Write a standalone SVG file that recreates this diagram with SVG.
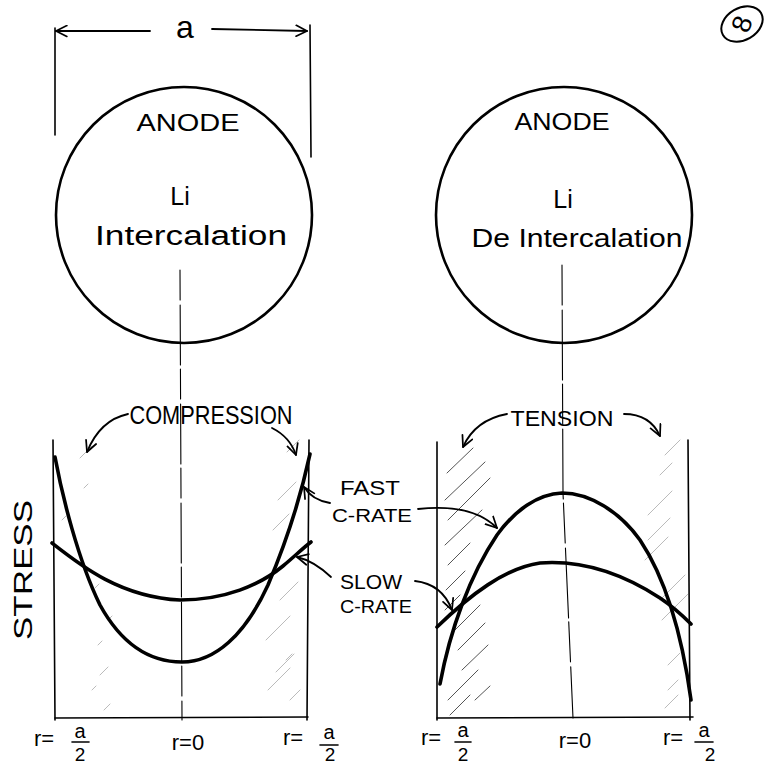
<svg xmlns="http://www.w3.org/2000/svg" width="765" height="767" viewBox="0 0 765 767">
<style>
.ink{fill:none;stroke:#000;stroke-linecap:round;stroke-linejoin:round}
.circ{stroke-width:2.6}
.curve{stroke-width:3.6}
.axis{stroke-width:1.6}
.center{stroke-width:1.1}
.arrow{stroke-width:1.8}
.hatch{fill:none;stroke:#555;stroke-width:1;stroke-linecap:round}
.hatchL{fill:none;stroke:#bbb;stroke-width:1;stroke-linecap:round}
.t{font-family:"Liberation Sans",Arial,sans-serif;fill:#000}
</style>
<defs>
<marker id="ah" viewBox="0 0 12 12" refX="11" refY="6" markerWidth="13" markerHeight="13" markerUnits="userSpaceOnUse" orient="auto">
<path d="M1,1 L11,6 L1,11" fill="none" stroke="#000" stroke-width="1.6" stroke-linejoin="round" stroke-linecap="round"/>
</marker>
</defs>
<rect width="765" height="767" fill="#fff"/>

<g id="page-number">
<ellipse cx="742" cy="24" rx="22" ry="16" transform="rotate(-30 742 24)" class="ink" stroke-width="2"/>
<text class="t" x="742" y="33" font-size="27" text-anchor="middle" transform="rotate(-70 742 24)">8</text>
</g>

<g id="dimension-a">
<line x1="55" y1="28" x2="55" y2="135" class="ink axis"/>
<line x1="310" y1="25" x2="311" y2="157" class="ink axis"/>
<text class="t" x="185" y="38" font-size="32" text-anchor="middle">a</text>
</g>

<g id="anode-left">
<ellipse cx="184" cy="215" rx="128" ry="128" class="ink circ"/>
<text class="t" x="188" y="131" font-size="24" text-anchor="middle" textLength="103" lengthAdjust="spacingAndGlyphs">ANODE</text>
<text class="t" x="180" y="205" font-size="25" text-anchor="middle">Li</text>
<text class="t" x="191" y="245" font-size="27" text-anchor="middle" textLength="192" lengthAdjust="spacingAndGlyphs">Intercalation</text>
</g>

<g id="anode-right">
<ellipse cx="564" cy="215" rx="128" ry="128" class="ink circ"/>
<text class="t" x="562" y="130" font-size="24" text-anchor="middle" textLength="95" lengthAdjust="spacingAndGlyphs">ANODE</text>
<text class="t" x="563" y="208" font-size="25" text-anchor="middle">Li</text>
<text class="t" x="577" y="247" font-size="26" text-anchor="middle" textLength="211" lengthAdjust="spacingAndGlyphs">De Intercalation</text>
</g>

<g id="stress-label">
<text class="t" font-size="26" text-anchor="middle" transform="translate(32 570) rotate(-90)" textLength="140" lengthAdjust="spacingAndGlyphs">STRESS</text>
</g>

<g id="graph-compression">
<g class="hatchL">
<path d="M80,458 L92,446 M84,488 L88,484 M62,520 L66,516 M95,588 L99,584 M108,620 L112,616 M98,645 L102,641 M100,675 L108,667 M92,690 L96,686 M104,710 L110,704"/>
<path d="M287,452 L299,440 M278,500 L296,482 M273,530 L289,514 M280,600 L298,582 M266,640 L290,616 M276,672 L294,654 M268,690 L290,668 M290,700 L300,690 M286,660 L292,654"/>
</g>
<line x1="53" y1="440" x2="55" y2="720" class="ink axis"/>
<line x1="309" y1="440" x2="307" y2="720" class="ink axis"/>
<line x1="55" y1="718" x2="308" y2="717" class="ink axis"/>
<path class="ink curve" d="M55,457 C62,495 78,560 100,605 C122,645 150,662 182,662 C215,662 245,635 268,585 C285,545 300,500 310,454"/>
<path class="ink curve" d="M52,543 C80,565 120,597 180,600 C225,600 260,585 283,566 C295,556 303,548 311,542"/>
<text class="t" x="211" y="424" font-size="26" text-anchor="middle" textLength="163" lengthAdjust="spacingAndGlyphs">COMPRESSION</text>
<text class="t" x="34" y="746" font-size="22">r=</text>
<text class="t" x="80" y="738" font-size="20" text-anchor="middle">a</text>
<line x1="72" y1="742" x2="89" y2="742" class="ink" stroke-width="1.6"/>
<text class="t" x="80" y="761" font-size="19" text-anchor="middle">2</text>
<text class="t" x="188" y="750" font-size="22" text-anchor="middle">r=0</text>
<text class="t" x="283" y="745" font-size="22">r=</text>
<text class="t" x="329" y="739" font-size="20" text-anchor="middle">a</text>
<line x1="320" y1="745" x2="338" y2="745" class="ink" stroke-width="1.6"/>
<text class="t" x="330" y="761" font-size="19" text-anchor="middle">2</text>
</g>

<g id="graph-tension">
<g class="hatch">
<path d="M447,473 L473,448 M445,500 L485,462 M448,520 L490,478 M445,545 L482,510 M448,565 L470,543 M446,590 L465,571 M445,610 L460,595 M455,630 L480,605 M458,650 L485,623 M462,670 L488,645 M448,700 L478,670 M450,715 L470,695 M475,700 L490,686"/>
</g>
<g class="hatchL">
<path d="M665,455 L680,440 M660,475 L672,463 M648,515 L672,491 M648,540 L670,518 M645,560 L668,537 M660,600 L685,575 M662,620 L688,594 M668,665 L680,653 M668,690 L678,680 M665,708 L678,695"/>
</g>
<line x1="437" y1="442" x2="437" y2="720" class="ink axis"/>
<line x1="688" y1="440" x2="690" y2="720" class="ink axis"/>
<line x1="437" y1="718" x2="693" y2="717" class="ink axis"/>
<path class="ink curve" d="M440,684 C450,630 470,575 497,535 C515,510 538,494 562,493 C590,493 620,512 640,540 C660,570 680,620 691,700"/>
<path class="ink curve" d="M437,627 C470,595 505,568 540,563 C580,560 620,572 660,598 C675,608 684,617 691,624"/>
<text class="t" x="562" y="426" font-size="22" text-anchor="middle" textLength="103" lengthAdjust="spacingAndGlyphs">TENSION</text>
<text class="t" x="421" y="745" font-size="22">r=</text>
<text class="t" x="463" y="737" font-size="20" text-anchor="middle">a</text>
<line x1="455" y1="742" x2="471" y2="742" class="ink" stroke-width="1.6"/>
<text class="t" x="463" y="761" font-size="19" text-anchor="middle">2</text>
<text class="t" x="575" y="748" font-size="22" text-anchor="middle">r=0</text>
<text class="t" x="663" y="745" font-size="22">r=</text>
<text class="t" x="704" y="737" font-size="20" text-anchor="middle">a</text>
<line x1="695" y1="742" x2="713" y2="742" class="ink" stroke-width="1.6"/>
<text class="t" x="710" y="761" font-size="19" text-anchor="middle">2</text>
</g>

<g id="label-fast">
<text class="t" x="340" y="495" font-size="21" textLength="60" lengthAdjust="spacingAndGlyphs">FAST</text>
<text class="t" x="332" y="522" font-size="19" textLength="80" lengthAdjust="spacingAndGlyphs">C-RATE</text>
</g>
<g id="label-slow">
<text class="t" x="340" y="589" font-size="21" textLength="62" lengthAdjust="spacingAndGlyphs">SLOW</text>
<text class="t" x="340" y="613" font-size="19" textLength="72" lengthAdjust="spacingAndGlyphs">C-RATE</text>
</g>

<g id="connectors">
<line x1="150" y1="31" x2="56" y2="31" class="ink arrow" marker-end="url(#ah)"/>
<line x1="212" y1="29" x2="307" y2="31" class="ink arrow" marker-end="url(#ah)"/>
<line x1="180" y1="270" x2="182" y2="720" class="ink center" stroke-dasharray="30 5 60 4"/>
<path d="M562,265 L563,493 L573,718" class="ink center" stroke-dasharray="40 5 70 4"/>
<path d="M128,414 Q100,420 87,452" class="ink arrow" marker-end="url(#ah)"/>
<path d="M272,428 Q290,437 296,455" class="ink arrow" marker-end="url(#ah)"/>
<path d="M507,414 Q475,420 463,447" class="ink arrow" marker-end="url(#ah)"/>
<path d="M624,414 Q650,414 660,436" class="ink arrow" marker-end="url(#ah)"/>
<path d="M330,503 Q312,500 304,487" class="ink arrow" marker-end="url(#ah)"/>
<path d="M418,509 Q472,503 497,528" class="ink arrow" marker-end="url(#ah)"/>
<path d="M331,577 Q314,561 297,557" class="ink arrow" marker-end="url(#ah)"/>
<path d="M415,581 Q442,584 452,610" class="ink arrow" marker-end="url(#ah)"/>
</g>
</svg>
